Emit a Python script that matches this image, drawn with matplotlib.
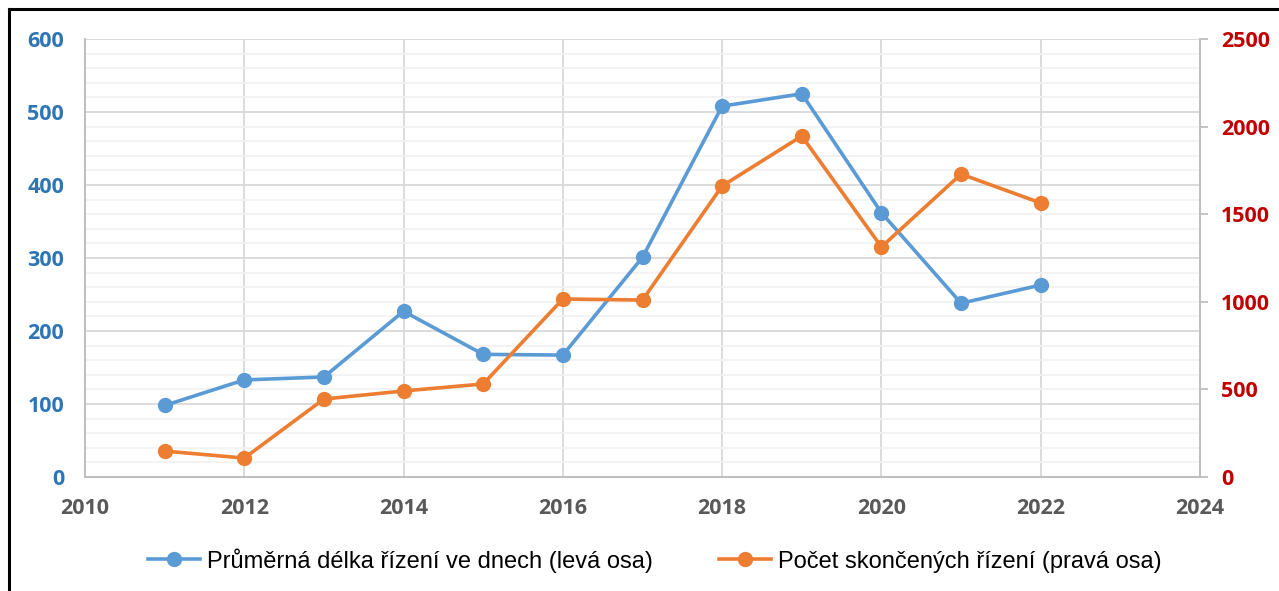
import matplotlib.pyplot as plt
from matplotlib.lines import Line2D
from matplotlib.ticker import MultipleLocator

years = [2011, 2012, 2013, 2014, 2015, 2016, 2017, 2018, 2019, 2020, 2021, 2022]
delka = [98, 133, 137, 227, 168, 167, 301, 508, 525, 362, 238, 263]
pocet = [148, 108, 445, 491, 531, 1016, 1010, 1661, 1946, 1313, 1729, 1564]

label_delka = "Průměrná délka řízení ve dnech (levá osa)"
label_pocet = "Počet skončených řízení (pravá osa)"

blue = "#5B9BD5"
orange = "#ED7D31"
grid_major = "#D9D9D9"
grid_minor = "#F2F2F2"

fig = plt.figure(figsize=(12.79, 5.91), dpi=100)
ax = fig.add_axes([85 / 1279, 1 - 477 / 591, (1200 - 85) / 1279, (477 - 39) / 591])
ax2 = ax.twinx()

ax.set_xlim(2010, 2024)
ax.set_ylim(0, 600)
ax2.set_ylim(0, 2500)

ax.xaxis.set_major_locator(MultipleLocator(2))
ax.yaxis.set_major_locator(MultipleLocator(100))
ax.yaxis.set_minor_locator(MultipleLocator(20))
ax2.yaxis.set_major_locator(MultipleLocator(500))

ax.grid(which="major", axis="both", color=grid_major, lw=1.3)
ax.grid(which="minor", axis="y", color=grid_minor, lw=1.3)
ax.set_axisbelow(True)

for sp in ["top"]:
    ax.spines[sp].set_visible(False)
    ax2.spines[sp].set_visible(False)
for sp in ["left", "bottom", "right"]:
    ax.spines[sp].set_color("#BFBFBF")
    ax.spines[sp].set_linewidth(1.3)
    ax2.spines[sp].set_color("#BFBFBF")
    ax2.spines[sp].set_linewidth(1.3)

tick_font = "Open Sans"
ax.tick_params(axis="y", which="both", length=0, pad=15, labelcolor="#2E75B6", labelsize=15.5)
ax.tick_params(axis="x", length=0, pad=15, labelcolor="#595959", labelsize=15.5)
ax2.tick_params(axis="y", length=6, width=1.3, color="#BFBFBF", pad=9, labelcolor="#C00000", labelsize=15.5)
for lab in ax.get_xticklabels() + ax.get_yticklabels() + ax2.get_yticklabels():
    lab.set_fontfamily(tick_font)
    lab.set_fontweight("bold")

l1, = ax.plot(years, delka, color=blue, lw=2.6, marker="o", ms=10, label=label_delka)
l2, = ax2.plot(years, pocet, color=orange, lw=2.6, marker="o", ms=10, label=label_pocet)

fig.legend(handles=[l1, l2], loc="center", bbox_to_anchor=(0.512, 0.052), ncol=2,
           frameon=False, prop={"family": "Liberation Sans", "size": 17},
           handlelength=2.2, handletextpad=0.3, columnspacing=2.8)

# border of the chart area
fig.add_artist(Line2D([9 / 1279, 1], [1 - 9 / 591, 1 - 9 / 591], color="black", lw=2.2))
fig.add_artist(Line2D([9 / 1279, 9 / 1279], [0, 1 - 9 / 591], color="black", lw=2.2))

fig.savefig("out.png", dpi=100)
